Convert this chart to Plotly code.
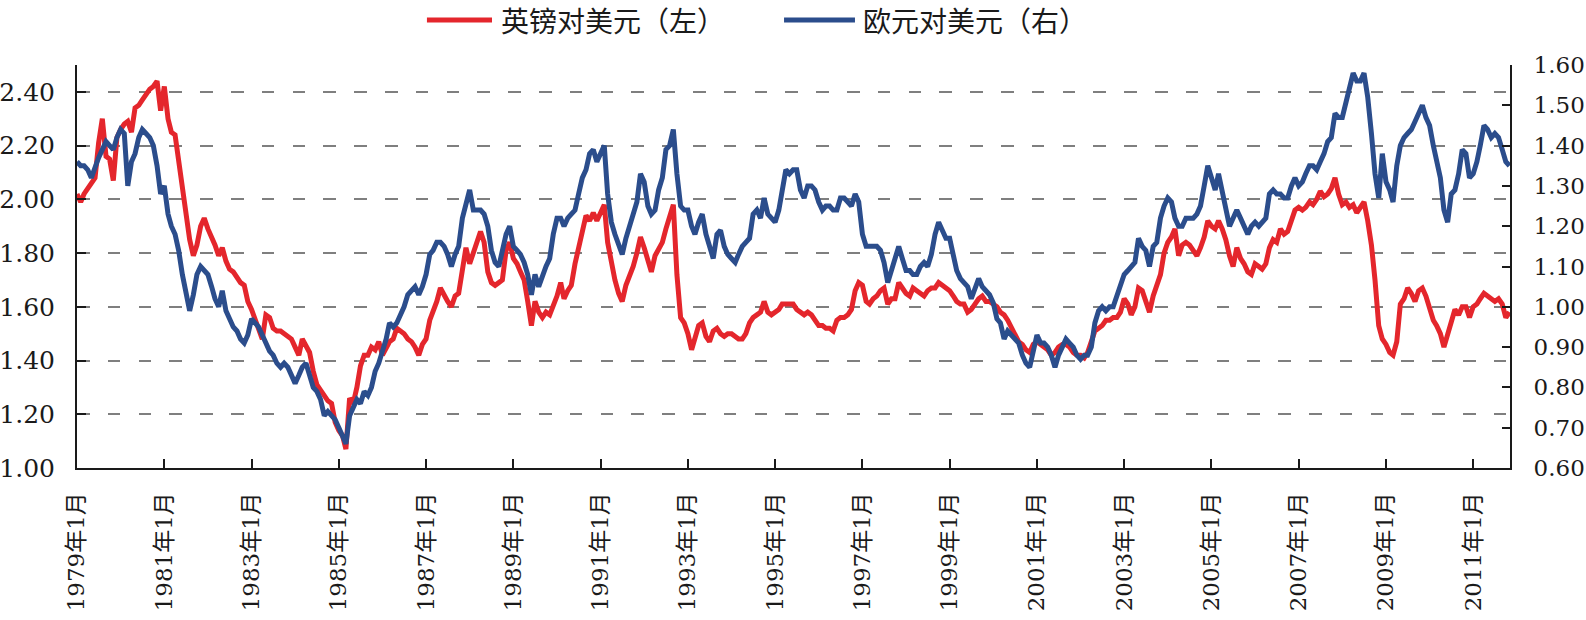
import pandas as pd
import plotly.graph_objects as go

# Monthly values, 1979-01 .. 2011-11
gbp_usd = [
    2.02, 1.99, 2.02, 2.04, 2.06, 2.08, 2.21, 2.30, 2.16, 2.15, 2.07, 2.23,  # 1979
    2.26, 2.28, 2.29, 2.25, 2.34, 2.35, 2.37, 2.39, 2.41, 2.42, 2.44, 2.33,  # 1980
    2.42, 2.30, 2.25, 2.24, 2.15, 2.05, 1.95, 1.85, 1.79, 1.83, 1.90, 1.93,  # 1981
    1.89, 1.86, 1.83, 1.79, 1.82, 1.77, 1.74, 1.73, 1.71, 1.69, 1.68, 1.62,  # 1982
    1.59, 1.55, 1.51, 1.48, 1.57, 1.56, 1.52, 1.51, 1.51, 1.50, 1.49, 1.48,  # 1983
    1.45, 1.42, 1.48, 1.45, 1.43, 1.36, 1.31, 1.29, 1.27, 1.25, 1.24, 1.17,  # 1984
    1.14, 1.12, 1.07, 1.26, 1.24, 1.30, 1.38, 1.42, 1.42, 1.45, 1.44, 1.47,  # 1985
    1.42, 1.45, 1.47, 1.48, 1.52, 1.51, 1.50, 1.48, 1.47, 1.45, 1.42, 1.46,  # 1986
    1.48, 1.55, 1.58, 1.62, 1.67, 1.64, 1.62, 1.60, 1.64, 1.65, 1.74, 1.82,  # 1987
    1.76, 1.80, 1.83, 1.88, 1.84, 1.73, 1.69, 1.68, 1.69, 1.70, 1.81, 1.84,  # 1988
    1.78, 1.76, 1.73, 1.70, 1.62, 1.53, 1.62, 1.58, 1.56, 1.58, 1.57, 1.60,  # 1989
    1.64, 1.69, 1.63, 1.66, 1.68, 1.76, 1.82, 1.88, 1.94, 1.92, 1.95, 1.92,  # 1990
    1.95, 1.98, 1.84, 1.76, 1.70, 1.65, 1.62, 1.68, 1.71, 1.75, 1.80, 1.86,  # 1991
    1.82, 1.78, 1.73, 1.79, 1.82, 1.84, 1.89, 1.93, 1.98, 1.72, 1.56, 1.54,  # 1992
    1.50, 1.44, 1.48, 1.53, 1.54, 1.49, 1.47, 1.51, 1.52, 1.50, 1.49, 1.50,  # 1993
    1.50, 1.49, 1.48, 1.48, 1.50, 1.54, 1.56, 1.57, 1.58, 1.62, 1.58, 1.57,  # 1994
    1.58, 1.59, 1.61, 1.61, 1.61, 1.61, 1.59, 1.58, 1.57, 1.58, 1.57, 1.55,  # 1995
    1.53, 1.53, 1.52, 1.52, 1.51, 1.55, 1.56, 1.56, 1.57, 1.59, 1.66, 1.69,  # 1996
    1.68, 1.62, 1.61, 1.63, 1.64, 1.66, 1.67, 1.61, 1.63, 1.63, 1.69, 1.67,  # 1997
    1.65, 1.64, 1.67, 1.66, 1.65, 1.64, 1.66, 1.67, 1.67, 1.69, 1.68, 1.67,  # 1998
    1.66, 1.64, 1.62, 1.61, 1.61, 1.58, 1.59, 1.61, 1.63, 1.64, 1.62, 1.62,  # 1999
    1.61, 1.60, 1.58, 1.57, 1.55, 1.52, 1.49, 1.47, 1.46, 1.44, 1.43, 1.46,  # 2000
    1.47, 1.46, 1.45, 1.44, 1.42, 1.43, 1.45, 1.46, 1.46, 1.45, 1.43, 1.42,  # 2001
    1.42, 1.41, 1.43, 1.47, 1.51, 1.52, 1.53, 1.55, 1.55, 1.56, 1.56, 1.58,  # 2002
    1.63, 1.61, 1.57, 1.60, 1.67, 1.66, 1.62, 1.58, 1.64, 1.68, 1.72, 1.80,  # 2003
    1.84, 1.86, 1.89, 1.79, 1.83, 1.84, 1.83, 1.81, 1.79, 1.82, 1.86, 1.92,  # 2004
    1.90, 1.89, 1.92, 1.89, 1.85, 1.79, 1.75, 1.82, 1.78, 1.76, 1.73, 1.72,  # 2005
    1.76, 1.75, 1.74, 1.76, 1.82, 1.85, 1.84, 1.89, 1.87, 1.88, 1.92, 1.96,  # 2006
    1.97, 1.96, 1.97, 1.99, 1.98, 2.00, 2.03, 2.01, 2.02, 2.04, 2.08, 2.02,  # 2007
    1.98, 1.99, 1.97, 1.98, 1.95, 1.97, 1.99, 1.92, 1.83, 1.70, 1.53, 1.48,  # 2008
    1.46, 1.43, 1.42, 1.47, 1.61, 1.63, 1.67, 1.65, 1.62, 1.66, 1.67, 1.64,  # 2009
    1.60, 1.55, 1.53, 1.50, 1.45, 1.50, 1.55, 1.59, 1.57, 1.60, 1.60, 1.56,  # 2010
    1.60, 1.61, 1.63, 1.65, 1.64, 1.63, 1.62, 1.63, 1.61, 1.56, 1.58,        # 2011
]

eur_usd = [
    1.36, 1.35, 1.35, 1.34, 1.32, 1.35, 1.37, 1.39, 1.41, 1.40, 1.39, 1.42,  # 1979
    1.44, 1.43, 1.30, 1.36, 1.38, 1.42, 1.44, 1.43, 1.42, 1.40, 1.35, 1.28,  # 1980
    1.30, 1.23, 1.20, 1.18, 1.14, 1.08, 1.04, 0.99, 1.03, 1.08, 1.10, 1.09,  # 1981
    1.08, 1.05, 1.02, 1.00, 1.04, 0.99, 0.97, 0.95, 0.94, 0.92, 0.91, 0.93,  # 1982
    0.97, 0.96, 0.95, 0.93, 0.91, 0.89, 0.88, 0.86, 0.85, 0.86, 0.85, 0.83,  # 1983
    0.81, 0.83, 0.85, 0.86, 0.83, 0.80, 0.79, 0.77, 0.73, 0.74, 0.73, 0.72,  # 1984
    0.70, 0.68, 0.66, 0.73, 0.75, 0.77, 0.76, 0.79, 0.78, 0.80, 0.84, 0.86,  # 1985
    0.89, 0.92, 0.96, 0.95, 0.96, 0.98, 1.00, 1.03, 1.04, 1.05, 1.03, 1.05,  # 1986
    1.08, 1.13, 1.14, 1.16, 1.16, 1.15, 1.13, 1.10, 1.13, 1.15, 1.22, 1.26,  # 1987
    1.29, 1.24, 1.24, 1.24, 1.23, 1.20, 1.14, 1.11, 1.10, 1.14, 1.18, 1.20,  # 1988
    1.15, 1.14, 1.13, 1.11, 1.08, 1.03, 1.08, 1.05, 1.08, 1.10, 1.12, 1.18,  # 1989
    1.22, 1.22, 1.20, 1.22, 1.23, 1.24, 1.28, 1.32, 1.34, 1.38, 1.39, 1.36,  # 1990
    1.38, 1.40, 1.28, 1.21, 1.18, 1.15, 1.13, 1.17, 1.20, 1.22, 1.26, 1.33,  # 1991
    1.31, 1.25, 1.23, 1.24, 1.29, 1.32, 1.39, 1.40, 1.44, 1.33, 1.25, 1.24,  # 1992
    1.24, 1.20, 1.18, 1.21, 1.23, 1.18, 1.15, 1.12, 1.18, 1.19, 1.15, 1.13,  # 1993
    1.12, 1.11, 1.13, 1.15, 1.16, 1.17, 1.23, 1.24, 1.22, 1.27, 1.23, 1.22,  # 1994
    1.21, 1.24, 1.29, 1.34, 1.33, 1.34, 1.34, 1.29, 1.27, 1.30, 1.30, 1.29,  # 1995
    1.26, 1.24, 1.25, 1.25, 1.24, 1.24, 1.27, 1.27, 1.26, 1.25, 1.28, 1.26,  # 1996
    1.18, 1.15, 1.15, 1.15, 1.15, 1.14, 1.11, 1.06, 1.09, 1.11, 1.15, 1.12,  # 1997
    1.09, 1.09, 1.08, 1.08, 1.10, 1.11, 1.10, 1.13, 1.18, 1.21, 1.19, 1.17,  # 1998
    1.17, 1.12, 1.09, 1.07, 1.06, 1.05, 1.02, 1.05, 1.07, 1.05, 1.04, 1.03,  # 1999
    1.01, 0.97, 0.96, 0.92, 0.94, 0.93, 0.92, 0.91, 0.88, 0.86, 0.85, 0.89,  # 2000
    0.93, 0.91, 0.91, 0.90, 0.88, 0.85, 0.88, 0.90, 0.92, 0.91, 0.90, 0.88,  # 2001
    0.87, 0.88, 0.88, 0.90, 0.96, 0.99, 1.00, 0.99, 1.00, 1.00, 1.03, 1.06,  # 2002
    1.08, 1.09, 1.10, 1.11, 1.17, 1.15, 1.14, 1.10, 1.15, 1.16, 1.22, 1.25,  # 2003
    1.27, 1.26, 1.22, 1.20, 1.20, 1.22, 1.22, 1.22, 1.23, 1.25, 1.30, 1.35,  # 2004
    1.32, 1.29, 1.33, 1.29, 1.25, 1.20, 1.22, 1.24, 1.22, 1.20, 1.18, 1.20,  # 2005
    1.21, 1.20, 1.21, 1.22, 1.28, 1.29, 1.28, 1.28, 1.27, 1.27, 1.30, 1.32,  # 2006
    1.30, 1.31, 1.33, 1.35, 1.35, 1.34, 1.36, 1.38, 1.41, 1.42, 1.48, 1.47,  # 2007
    1.47, 1.51, 1.55, 1.58, 1.56, 1.56, 1.58, 1.52, 1.43, 1.33, 1.27, 1.38,  # 2008
    1.31, 1.29, 1.26, 1.35, 1.40, 1.42, 1.43, 1.44, 1.46, 1.48, 1.50, 1.47,  # 2009
    1.45, 1.40, 1.36, 1.32, 1.24, 1.21, 1.28, 1.29, 1.33, 1.39, 1.38, 1.32,  # 2010
    1.33, 1.36, 1.40, 1.45, 1.44, 1.42, 1.43, 1.42, 1.39, 1.36, 1.35,        # 2011
]

months = pd.date_range("1979-01-01", periods=len(gbp_usd), freq="MS")

tick_years = list(range(1979, 2012, 2))
tick_dates = [f"{y}-01-01" for y in tick_years]
tick_labels = [f"{y}年1月" for y in tick_years]

series_names = ["英镑对美元（左）", "欧元对美元（右）"]
RED = "#E4262C"
BLUE = "#2B4D8C"
INK = "#1a1a1a"
FONT_NUM = "DejaVu Serif, Noto Sans CJK SC"

fig = go.Figure()
fig.add_trace(go.Scatter(x=months, y=gbp_usd, mode="lines", name=series_names[0],
                         line=dict(color=RED, width=5), yaxis="y"))
fig.add_trace(go.Scatter(x=months, y=eur_usd, mode="lines", name=series_names[1],
                         line=dict(color=BLUE, width=5), yaxis="y2"))

fig.update_layout(
    width=1586, height=620,
    margin=dict(l=77, r=76, t=65, b=152),
    paper_bgcolor="white", plot_bgcolor="white",
    showlegend=False,
    xaxis=dict(
        type="date", range=["1979-01-01", "2011-11-05"], automargin=False,
        tickmode="array", tickvals=tick_dates, ticktext=tick_labels,
        tickangle=-90, ticks="inside", ticklen=9, tickwidth=2, tickcolor=INK,
        showline=True, linecolor=INK, linewidth=2, showgrid=False, zeroline=False,
        tickfont=dict(family=FONT_NUM, size=23, color=INK), ticklabelstandoff=13,
    ),
    yaxis=dict(
        range=[1.0, 2.5], tick0=1.0, dtick=0.2, tickformat=".2f", automargin=False,
        ticks="inside", ticklen=9, tickwidth=2, tickcolor=INK,
        showline=True, linecolor=INK, linewidth=2,
        showgrid=True, gridcolor="#7f7f7f", gridwidth=2, griddash="12.5px,18.3px",
        zeroline=False,
        tickfont=dict(family=FONT_NUM, size=25, color=INK), ticklabelstandoff=15,
    ),
    yaxis2=dict(
        range=[0.6, 1.6], tick0=0.6, dtick=0.1, tickformat=".2f", automargin=False,
        overlaying="y", side="right",
        ticks="inside", ticklen=8, tickwidth=2, tickcolor=INK,
        showline=True, linecolor=INK, linewidth=2, showgrid=False, zeroline=False,
        tickfont=dict(family=FONT_NUM, size=23, color=INK), ticklabelstandoff=17,
    ),
)

# Legend drawn at the top centre
LEG_Y = 1.1117
legend_items = [
    (0.2442, 0.2896, 0.2945, RED, series_names[0]),
    (0.4934, 0.5429, 0.5471, BLUE, series_names[1]),
]
for x0, x1, xt, col, name in legend_items:
    fig.add_shape(type="line", xref="paper", yref="paper", x0=x0, x1=x1,
                  y0=LEG_Y, y1=LEG_Y, line=dict(color=col, width=5))
    fig.add_annotation(xref="paper", yref="paper", x=xt, y=LEG_Y, text=name,
                       showarrow=False, xanchor="left", yanchor="middle",
                       font=dict(family="Noto Sans CJK SC", size=28, color=INK))

fig.write_html("out.html")
